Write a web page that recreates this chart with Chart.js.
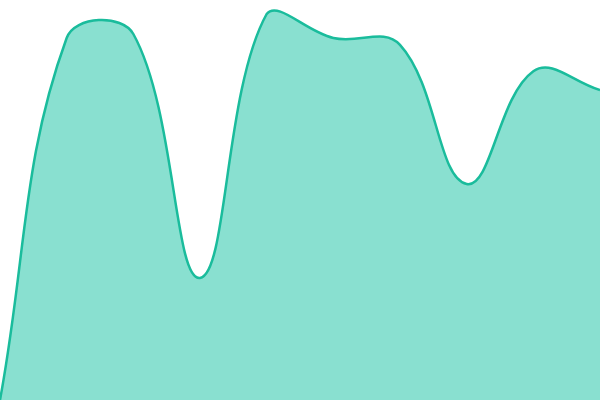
<!DOCTYPE html>
<html>
<head>
<meta charset="utf-8">
<script src="https://cdn.jsdelivr.net/npm/chart.js@4"></script>
<style>
  html, body { margin: 0; padding: 0; background: #fff; }
  #wrap { width: 600px; height: 400px; }
</style>
</head>
<body>
<div id="wrap"><canvas id="chart"></canvas></div>
<script>
const labels = ['1', '2', '3', '4', '5', '6', '7', '8', '9', '10'];
const values = [0, 90.5, 91.5, 30.5, 96.5, 90.5, 88.8, 54, 82.2, 77.5];

new Chart(document.getElementById('chart'), {
  type: 'line',
  data: {
    labels,
    datasets: [{
      data: values,
      borderColor: '#1abc9c',
      backgroundColor: 'rgba(19,193,161,0.5)',
      borderWidth: 2.5,
      fill: true,
      tension: 0.4,
      pointRadius: 0,
    }],
  },
  options: {
    responsive: true,
    maintainAspectRatio: false,
    animation: false,
    layout: { padding: 0 },
    plugins: { legend: { display: false }, tooltip: { enabled: false } },
    scales: {
      x: { display: false },
      y: { display: false, min: 0, max: 100 },
    },
  },
});
</script>
</body>
</html>
